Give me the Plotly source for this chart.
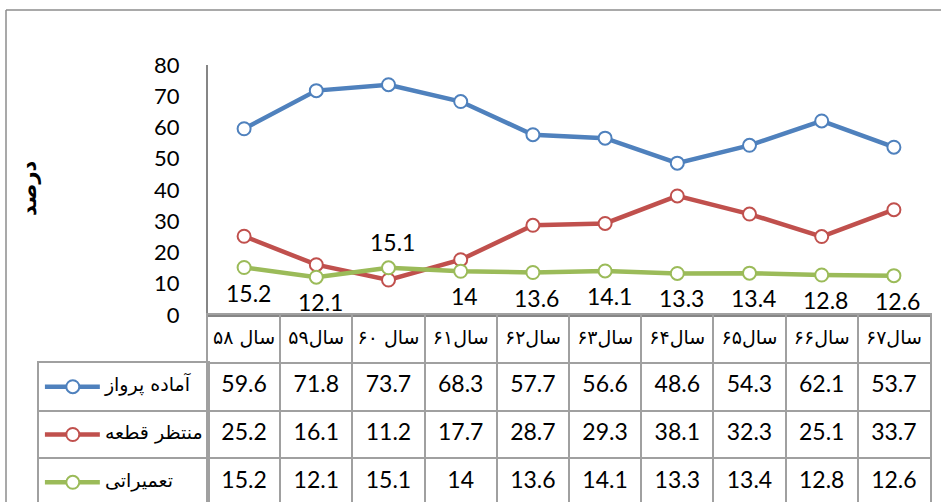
import plotly.graph_objects as go

# ---------------- data ----------------
categories = ["سال ۵۸", "سال۵۹", "سال ۶۰", "سال۶۱", "سال۶۲",
              "سال۶۳", "سال۶۴", "سال۶۵", "سال۶۶", "سال۶۷"]
series_names = ["آماده پرواز", "منتظر قطعه", "تعمیراتی"]
ready = [59.6, 71.8, 73.7, 68.3, 57.7, 56.6, 48.6, 54.3, 62.1, 53.7]
waiting = [25.2, 16.1, 11.2, 17.7, 28.7, 29.3, 38.1, 32.3, 25.1, 33.7]
repair = [15.2, 12.1, 15.1, 14, 13.6, 14.1, 13.3, 13.4, 12.8, 12.6]
y_ticks = [0, 10, 20, 30, 40, 50, 60, 70, 80]
y_title = "درصد"

# ---------------- style ----------------
series_values = [ready, waiting, repair]
colors = ["#4F81BD", "#C0504D", "#9BBB59"]
label_above = [False, False, True, False, False, False, False, False, False, False]
GRID = "#A0A0A0"
AXIS = "#868686"
TICK_FONT = dict(family="Lato, DejaVu Sans", size=22, color="black")
NUM_FONT = dict(family="Lato, DejaVu Sans", size=23, color="black")
FA_FONT = dict(family="DejaVu Sans", size=19, color="black")

W, H = 941, 502
def px(x): return x / W
def py(y): return 1 - y / H
PLOT_L, PLOT_R = 208, 930
PLOT_T, AXIS_Y = 65, 315
LEG_L = 39
ROW_H = 47.8

fig = go.Figure()

# ---------------- main chart ----------------
for name, vals, c in zip(series_names, series_values, colors):
    fig.add_trace(go.Scatter(
        x=categories, y=vals, name=name, mode="lines+markers",
        line=dict(color=c, width=4.5),
        marker=dict(symbol="circle", size=13, color="white", line=dict(color=c, width=2)),
        xaxis="x", yaxis="y", showlegend=False))

# ---------------- data table ----------------
fig.add_trace(go.Scatter(
    x=categories, y=[0] * len(categories), text=categories, mode="text",
    textfont=FA_FONT, xaxis="x2", yaxis="y2", showlegend=False))
for r, vals in enumerate(series_values, start=1):
    fig.add_trace(go.Scatter(
        x=categories, y=[r] * len(vals), text=[f"{v:g}" for v in vals], mode="text",
        textfont=NUM_FONT, xaxis="x2", yaxis="y2", showlegend=False))

# legend column
for r, (name, c) in enumerate(zip(series_names, colors), start=1):
    fig.add_trace(go.Scatter(
        x=[0.035, 0.36], y=[r, r], mode="lines", line=dict(color=c, width=4.5),
        xaxis="x3", yaxis="y3", showlegend=False))
    fig.add_trace(go.Scatter(
        x=[0.2], y=[r], mode="markers",
        marker=dict(symbol="circle", size=13, color="white", line=dict(color=c, width=2)),
        xaxis="x3", yaxis="y3", showlegend=False))
    fig.add_trace(go.Scatter(
        x=[0.39], y=[r], text=[name], mode="text", textposition="middle right",
        textfont=FA_FONT, xaxis="x3", yaxis="y3", showlegend=False))

# data labels for repair series
annotations = []
for cat, v, above in zip(categories, repair, label_above):
    annotations.append(dict(
        x=cat, y=v, xref="x", yref="y", text=f"{v:g}", showarrow=False,
        font=NUM_FONT, yshift=26 if above else -25, xshift=4))

annotations.append(dict(
    x=px(29), y=py(188), xref="paper", yref="paper", xanchor="center", yanchor="middle",
    text=f"<b>{y_title}</b>", showarrow=False, textangle=-90,
    font=dict(family="DejaVu Sans", size=21, color="black")))

tbl_bottom = -0.5 + (H - AXIS_Y) / ROW_H
leg_bottom = 0.5 + (H - AXIS_Y - ROW_H) / ROW_H

fig.update_layout(
    width=W, height=H, margin=dict(l=0, r=0, t=0, b=0, autoexpand=False),
    paper_bgcolor="white", plot_bgcolor="white", hovermode=False, showlegend=False,
    xaxis=dict(domain=[px(PLOT_L), px(PLOT_R)], type="category", categoryorder="array",
               categoryarray=categories, range=[-0.5, len(categories) - 0.5],
               showticklabels=False, showgrid=False, zeroline=False,
               showline=True, linecolor=AXIS, linewidth=2, anchor="y"),
    yaxis=dict(domain=[py(AXIS_Y), py(PLOT_T)], range=[0, 80], tickvals=y_ticks,
               showgrid=False, zeroline=False, showline=True, linecolor=AXIS, linewidth=2,
               ticks="", ticklabelstandoff=22, tickfont=TICK_FONT, anchor="x"),
    xaxis2=dict(domain=[px(PLOT_L), px(PLOT_R)], type="category", categoryorder="array",
                categoryarray=categories, range=[-0.5, len(categories) - 0.5],
                tickson="boundaries", showgrid=True, gridcolor=GRID, gridwidth=2,
                showticklabels=False, ticks="", zeroline=False,
                showline=True, mirror=True, linecolor=GRID, linewidth=2, anchor="y2"),
    yaxis2=dict(domain=[0, py(AXIS_Y)], range=[tbl_bottom, -0.5],
                tickvals=[k - 0.5 for k in range(5)], showgrid=True, gridcolor=GRID, gridwidth=2,
                showticklabels=False, ticks="", zeroline=False,
                showline=True, mirror=True, linecolor=GRID, linewidth=2, anchor="x2"),
    xaxis3=dict(domain=[px(LEG_L), px(PLOT_L)], range=[0, 1], showgrid=False,
                showticklabels=False, ticks="", zeroline=False,
                showline=True, mirror=True, linecolor=GRID, linewidth=2, anchor="y3"),
    yaxis3=dict(domain=[0, py(AXIS_Y + ROW_H)], range=[leg_bottom, 0.5],
                tickvals=[1.5, 2.5, 3.5], showgrid=True, gridcolor=GRID, gridwidth=2,
                showticklabels=False, ticks="", zeroline=False,
                showline=True, mirror=True, linecolor=GRID, linewidth=2, anchor="x3"),
    annotations=annotations,
    shapes=[
        dict(type="line", xref="paper", yref="paper", x0=px(6), x1=px(6), y0=0, y1=py(10),
             line=dict(color="#8C8C8C", width=1.5)),
        dict(type="line", xref="paper", yref="paper", x0=px(6), x1=1, y0=py(10), y1=py(10),
             line=dict(color="#8C8C8C", width=1.5)),
    ],
)

fig.write_html("out.html", config={"displayModeBar": False},
               post_script="document.body.style.margin='0';document.body.style.overflow='hidden';")
